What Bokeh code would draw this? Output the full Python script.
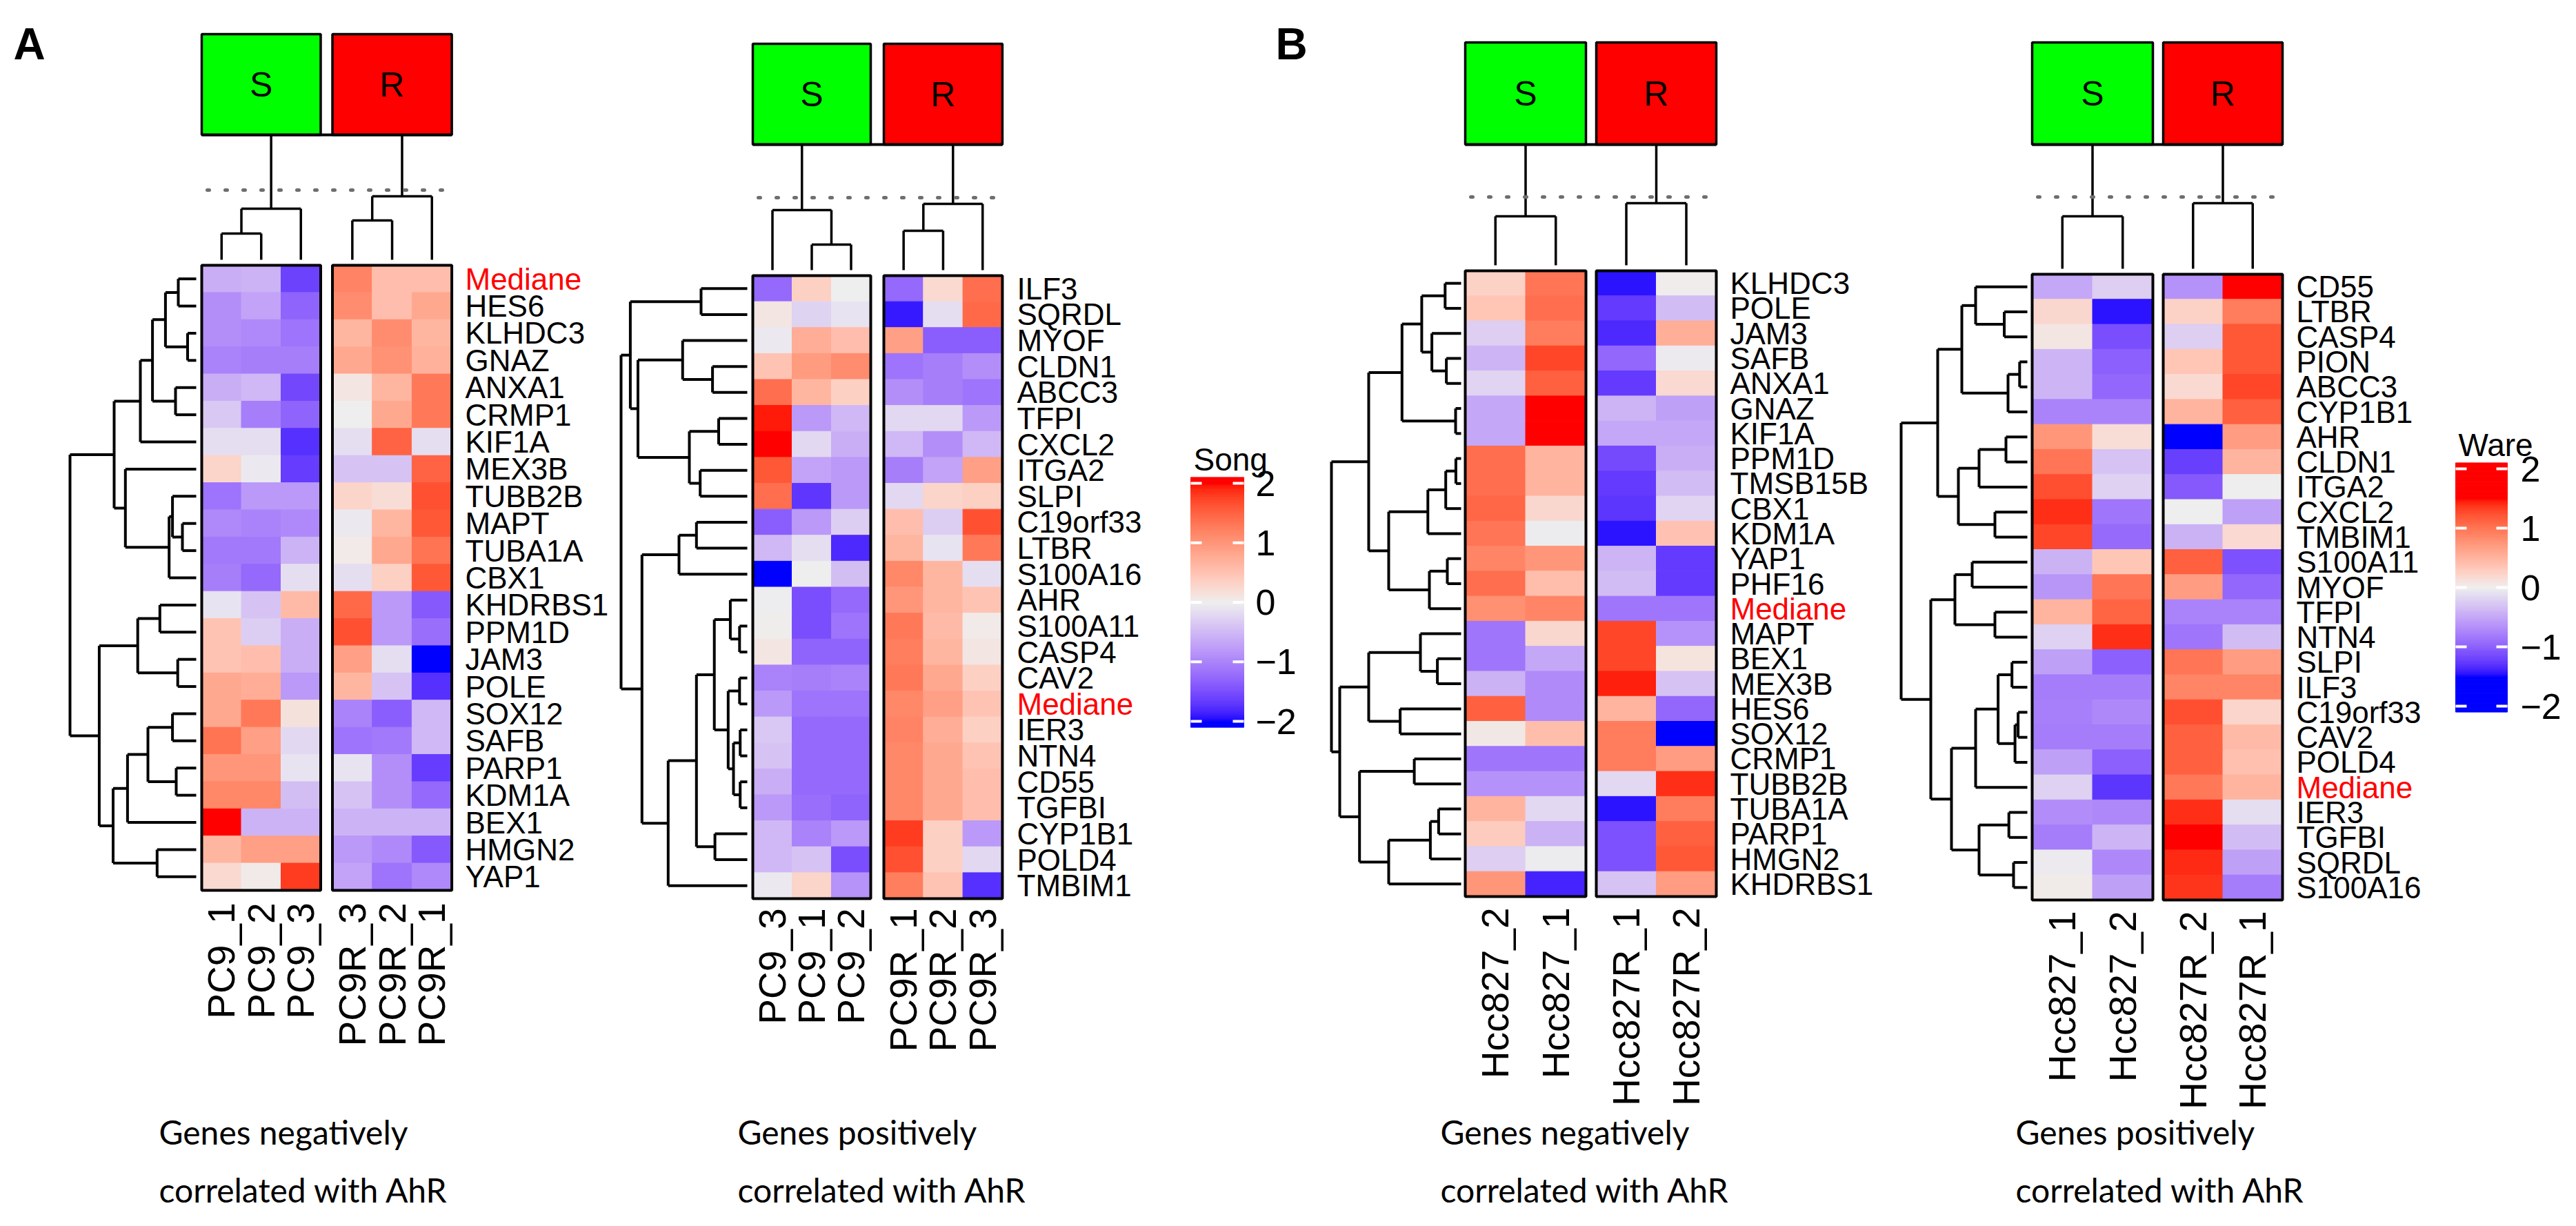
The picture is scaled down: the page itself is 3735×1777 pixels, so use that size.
import numpy as np
from bokeh.plotting import figure
from bokeh.models import Range1d
from bokeh.embed import file_html
from bokeh.resources import INLINE
from bokeh.core.properties import value

# ======================= DATA =======================
A_neg_genes = ["Mediane", "HES6", "KLHDC3", "GNAZ", "ANXA1", "CRMP1", "KIF1A", "MEX3B",
               "TUBB2B", "MAPT", "TUBA1A", "CBX1", "KHDRBS1", "PPM1D", "JAM3", "POLE",
               "SOX12", "SAFB", "PARP1", "KDM1A", "BEX1", "HMGN2", "YAP1"]
A_neg_S_cols = ["PC9_1", "PC9_2", "PC9_3"]
A_neg_R_cols = ["PC9R_3", "PC9R_2", "PC9R_1"]
A_neg_S = [[-0.6, -0.55, -1.6], [-0.9, -0.7, -1.3], [-0.9, -0.95, -1.15], [-1.0, -1.05, -1.05],
           [-0.6, -0.5, -1.55], [-0.35, -1.05, -1.3], [-0.15, -0.15, -1.75], [0.3, -0.05, -1.65],
           [-1.15, -0.8, -0.8], [-0.95, -1.0, -0.95], [-1.1, -1.1, -0.55], [-1.05, -1.25, -0.15],
           [-0.1, -0.4, 0.6], [0.5, -0.3, -0.6], [0.5, 0.55, -0.6], [0.8, 0.75, -0.8],
           [0.8, 1.3, 0.15], [1.35, 0.9, -0.2], [1.0, 1.0, -0.1], [1.15, 1.15, -0.45],
           [2.0, -0.55, -0.55], [0.65, 0.9, 0.9], [0.25, 0.05, 1.8]]
A_neg_R = [[1.2, 0.55, 0.55], [1.1, 0.55, 0.8], [0.65, 1.1, 0.65], [0.8, 1.05, 0.7],
           [0.1, 0.65, 1.3], [0.0, 0.8, 1.3], [-0.15, 1.5, -0.15], [-0.4, -0.4, 1.5],
           [0.3, 0.2, 1.65], [-0.05, 0.65, 1.6], [0.05, 0.8, 1.35], [-0.15, 0.35, 1.6],
           [1.45, -0.8, -1.4], [1.65, -0.8, -1.2], [0.9, -0.15, -2.0], [0.65, -0.4, -1.75],
           [-1.0, -1.35, -0.5], [-1.15, -1.1, -0.5], [-0.1, -0.9, -1.65], [-0.4, -0.9, -1.25],
           [-0.55, -0.55, -0.55], [-0.8, -0.95, -1.4], [-0.7, -1.15, -0.95]]
A_neg_row_tree = (((((((0, 1, 26), (2, 3, 12.5), 44.6), (4, 5, 30), 63.4), 6, 81),
                    (7, (((8, (9, 10, 20), 34.4)), 11, 39.3), 102.7), 119),
                   (((12, 13, 52.7), (14, 15, 26.8), 84.8),
                    (((((16, 17, 34.4), (18, 19, 29), 70), 20, 99.6)), (21, 22, 56.7), 120.5), 140.6), 183))
A_neg_S_tree = ((0, 1, 38), 2, 74)
A_neg_R_tree = ((0, 1, 57), 2, 92)

A_pos_genes = ["ILF3", "SQRDL", "MYOF", "CLDN1", "ABCC3", "TFPI", "CXCL2", "ITGA2", "SLPI",
               "C19orf33", "LTBR", "S100A16", "AHR", "S100A11", "CASP4", "CAV2", "Mediane",
               "IER3", "NTN4", "CD55", "TGFBI", "CYP1B1", "POLD4", "TMBIM1"]
A_pos_S_cols = ["PC9_3", "PC9_1", "PC9_2"]
A_pos_R_cols = ["PC9R_1", "PC9R_2", "PC9R_3"]
A_pos_S = [[-1.25, 0.35, 0.0], [0.1, -0.25, -0.1], [-0.05, 0.75, 0.55], [0.5, 0.95, 1.1],
           [1.4, 0.65, 0.35], [1.95, -0.8, -0.5], [2.0, -0.2, -0.6], [1.6, -0.7, -0.8],
           [1.4, -1.7, -0.8], [-1.35, -0.8, -0.3], [-0.5, -0.15, -1.8], [-2.0, 0.0, -0.45],
           [-0.02, -1.5, -1.25], [0.02, -1.5, -1.15], [0.1, -1.3, -1.3], [-1.0, -1.05, -1.0],
           [-0.8, -1.15, -1.15], [-0.35, -1.25, -1.25], [-0.4, -1.25, -1.25], [-0.6, -1.25, -1.25],
           [-0.8, -1.2, -1.3], [-0.5, -1.0, -0.8], [-0.5, -0.4, -1.5], [-0.05, 0.3, -0.85]]
A_pos_R = [[-1.25, 0.25, 1.4], [-1.9, -0.15, 1.45], [0.9, -1.35, -1.35], [-1.15, -1.05, -0.9],
           [-0.9, -1.05, -1.15], [-0.2, -0.2, -0.8], [-0.5, -0.9, -0.5], [-1.05, -0.7, 0.9],
           [-0.2, 0.3, 0.35], [0.55, -0.3, 1.65], [0.65, -0.1, 1.3], [1.15, 0.65, -0.15],
           [1.0, 0.65, 0.5], [1.3, 0.6, 0.05], [1.25, 0.65, 0.1], [1.3, 0.8, 0.35],
           [1.15, 0.9, 0.5], [1.2, 0.75, 0.35], [1.15, 0.8, 0.5], [1.15, 0.8, 0.55],
           [1.15, 0.8, 0.55], [1.8, 0.35, -0.8], [1.65, 0.35, -0.2], [1.25, 0.5, -1.75]]
A_pos_row_tree = (((0, 1, 67), ((2, (3, 4, 50.4), 93.75), ((5, 6, 41.5), (7, 8, 68.3), 84), 158.5), 169.6),
                  (((9, 10, 73.7), 11, 99),
                   (((((12, (13, 14, 11.2), 24.6),
                       ((15, 16, 11.2), ((17, 18, 10.3), (19, 20, 10.3), 20), 27.7), 47.8)),
                      (21, 22, 46.9), 73.7), 23, 114.7), 152.7), 183)
A_pos_S_tree = (0, (1, 2, 37), 87)
A_pos_R_tree = ((0, 1, 57), 2, 96)

B_neg_genes = ["KLHDC3", "POLE", "JAM3", "SAFB", "ANXA1", "GNAZ", "KIF1A", "PPM1D", "TMSB15B",
               "CBX1", "KDM1A", "YAP1", "PHF16", "Mediane", "MAPT", "BEX1", "MEX3B", "HES6",
               "SOX12", "CRMP1", "TUBB2B", "TUBA1A", "PARP1", "HMGN2", "KHDRBS1"]
B_neg_S_cols = ["Hcc827_2", "Hcc827_1"]
B_neg_R_cols = ["Hcc827R_1", "Hcc827R_2"]
B_neg_S = [[0.25, 1.0], [0.35, 1.05], [-0.22, 0.95], [-0.4, 1.3], [-0.18, 1.15], [-0.5, 1.5],
           [-0.5, 1.5], [1.05, 0.5], [1.05, 0.5], [1.1, 0.2], [1.0, -0.02], [0.88, 0.75],
           [1.05, 0.42], [0.8, 0.88], [-0.85, 0.2], [-0.85, -0.5], [-0.42, -0.7], [1.15, -0.7],
           [0.05, 0.42], [-0.85, -0.85], [-0.65, -0.65], [0.5, -0.15], [0.3, -0.42], [-0.22, -0.02],
           [0.75, -1.38]]
B_neg_R = [[-1.45, 0.02], [-1.25, -0.35], [-1.35, 0.55], [-0.95, -0.03], [-1.25, 0.18], [-0.4, -0.55],
           [-0.5, -0.5], [-1.15, -0.45], [-1.25, -0.35], [-1.28, -0.18], [-1.45, 0.38], [-0.4, -1.25],
           [-0.35, -1.25], [-0.85, -0.85], [1.3, -0.65], [1.3, 0.1], [1.45, -0.3], [0.5, -0.95],
           [0.95, -1.5], [0.95, 0.7], [-0.15, 1.4], [-1.45, 0.95], [-1.1, 1.15], [-1.1, 1.2],
           [-0.3, 0.7]]
B_neg_row_tree = (((((0, 1, 23.2), (2, (3, 4, 21.4), 42.4), 57.1), (5, 6, 8), 85.7),
                   (((((7, 8, 7.6), 9, 22.3), 10, 48.2)), (((11, 12, 20), 13, 46)), 105), 134),
                  (((14, (15, 16, 34.4), 59), (17, 18, 88.4), 134),
                   ((19, 20, 67.9), ((((21, 22, 32.6), 23, 44.6)), 24, 105), 147.3), 176), 188)
B_neg_S_tree = (0, 1, 71)
B_neg_R_tree = (0, 1, 90)

B_pos_genes = ["CD55", "LTBR", "CASP4", "PION", "ABCC3", "CYP1B1", "AHR", "CLDN1", "ITGA2",
               "CXCL2", "TMBIM1", "S100A11", "MYOF", "TFPI", "NTN4", "SLPI", "ILF3", "C19orf33",
               "CAV2", "POLD4", "Mediane", "IER3", "TGFBI", "SQRDL", "S100A16"]
B_pos_S_cols = ["Hcc827_1", "Hcc827_2"]
B_pos_R_cols = ["Hcc827R_2", "Hcc827R_1"]
B_pos_S = [[-0.5, -0.22], [0.2, -1.45], [0.08, -1.12], [-0.4, -1.0], [-0.4, -0.95], [-0.75, -0.75],
           [0.75, 0.15], [1.0, -0.3], [1.25, -0.2], [1.4, -0.85], [1.3, -0.92], [-0.42, 0.35],
           [-0.62, 1.0], [0.5, 1.12], [-0.2, 1.4], [-0.55, -1.0], [-0.8, -0.8], [-0.78, -0.72],
           [-0.8, -0.8], [-0.55, -1.0], [-0.2, -1.28], [-0.68, -0.72], [-0.8, -0.4], [-0.03, -0.72],
           [0.03, -0.55]]
B_pos_R = [[-0.65, 1.5], [0.25, 0.95], [-0.22, 1.2], [0.35, 1.2], [0.18, 1.3], [0.5, 1.15],
           [-1.5, 0.7], [-1.22, 0.5], [-1.05, 0.0], [0.0, -0.55], [-0.42, 0.18], [1.15, -1.1],
           [0.7, -0.95], [-0.75, -0.75], [-0.85, -0.35], [1.0, 0.7], [0.88, 0.88], [1.25, 0.22],
           [1.15, 0.45], [1.15, 0.4], [0.98, 0.5], [1.4, -0.12], [1.5, -0.35], [1.42, -0.55],
           [1.38, -0.8]]
B_pos_row_tree = (((((0, (1, 2, 33.5), 75), (((3, 4, 11.2), 5, 28)), 95),
                    ((((6, 7, 31), 8, 70)), (9, 10, 47), 100), 130)),
                  ((((11, 12, 80), (13, 14, 47), 105)),
                   ((((((15, 16, 22.3), (((17, 18, 13.4), 19, 17.9)), 42.4)), 20, 75)),
                    ((21, 22, 26.8), (23, 24, 20), 70), 110), 140), 183)
B_pos_S_tree = (0, 1, 76)
B_pos_R_tree = (0, 1, 95)

captions = [["Genes negatively", "correlated with AhR"], ["Genes positively", "correlated with AhR"],
            ["Genes negatively", "correlated with AhR"], ["Genes positively", "correlated with AhR"]]
legend_titles = ["Song", "Ware"]
legend_ticks = [2, 1, 0, -1, -2]
legend_tick_labels = ["2", "1", "0", "\u22121", "\u22122"]
panel_letters = ["A", "B"]
group_labels = ["S", "R"]

# ======================= COLOR SCALE (LAB interpolation) =======================
M = np.array([[0.4124, 0.3576, 0.1805], [0.2126, 0.7152, 0.0722], [0.0193, 0.1192, 0.9505]])
WHT = np.array([0.95047, 1.0, 1.08883])


def _lin(c):
    c = np.asarray(c, float) / 255.0
    return np.where(c <= 0.04045, c / 12.92, ((c + 0.055) / 1.055) ** 2.4)


def _f(t):
    d = 6 / 29
    return np.where(t > d ** 3, np.cbrt(t), t / (3 * d * d) + 4 / 29)


def _finv(t):
    d = 6 / 29
    return np.where(t > d, t ** 3, 3 * d * d * (t - 4 / 29))


def rgb2lab(rgb):
    xyz = M @ _lin(rgb)
    fx, fy, fz = _f(xyz / WHT)
    return np.array([116 * fy - 16, 500 * (fx - fy), 200 * (fy - fz)])


def lab2hex(lab):
    L, a, b = lab
    fy = (L + 16) / 116
    fx = fy + a / 500
    fz = fy - b / 200
    xyz = np.array([_finv(fx), _finv(fy), _finv(fz)]) * WHT
    lin = np.clip(np.linalg.inv(M) @ xyz, 0, 1)
    s = np.where(lin <= 0.0031308, 12.92 * lin, 1.055 * lin ** (1 / 2.4) - 0.055)
    r, g, b2 = (np.clip(np.round(s * 255), 0, 255)).astype(int)
    return "#%02x%02x%02x" % (r, g, b2)


LAB_BLUE = rgb2lab([0, 0, 255])
LAB_MID = rgb2lab([238, 238, 238])
LAB_RED = rgb2lab([255, 0, 0])


def cmap(v, lim):
    v = max(-lim, min(lim, v))
    if v < 0:
        t = (v + lim) / lim
        return lab2hex(LAB_BLUE * (1 - t) + LAB_MID * t)
    t = v / lim
    return lab2hex(LAB_MID * (1 - t) + LAB_RED * t)


# ======================= FIGURE =======================
W, H = 3719, 1761
p = figure(width=W, height=H, x_range=Range1d(8, 8 + W), y_range=Range1d(-(8 + H), -8),
           output_backend="svg", toolbar_location=None, min_border=0)
p.axis.visible = False
p.xgrid.visible = False
p.ygrid.visible = False
p.outline_line_color = None
p.background_fill_color = "white"

GENE_FONT = value("Liberation Sans")


def tree_segments(node, segs):
    if isinstance(node, int):
        return float(node), 0.0
    l, r, h = node
    pl, hl = tree_segments(l, segs)
    pr, hr = tree_segments(r, segs)
    segs.append(((pl, hl), (pl, h)))
    segs.append(((pr, hr), (pr, h)))
    segs.append(((pl, h), (pr, h)))
    return (pl + pr) / 2, h


def draw_panel(genes, s_cols, r_cols, s_vals, r_vals, row_tree, s_tree, r_tree, lim, L, caption):
    nrow = len(genes)
    rh = L["rh"]
    y0 = L["y0"]
    blocks = [(L["xS"], L["cwS"], s_cols, s_vals, s_tree, "#00ff00", "S"),
              (L["xR"], L["cwR"], r_cols, r_vals, r_tree, "#ff0000", "R")]
    for (bx, cw, cols, vals, ctree, bcol, glab) in blocks:
        ncol = len(cols)
        left, right, top, bottom, colors = [], [], [], [], []
        for i in range(nrow):
            for j in range(ncol):
                left.append(bx + j * cw)
                right.append(bx + (j + 1) * cw)
                top.append(-(y0 + i * rh))
                bottom.append(-(y0 + (i + 1) * rh))
                colors.append(cmap(vals[i][j], lim))
        p.quad(left=left, right=right, top=top, bottom=bottom, fill_color=colors,
               line_color=colors, line_width=1)
        bw = ncol * cw
        p.quad(left=[bx], right=[bx + bw], top=[-y0], bottom=[-(y0 + nrow * rh)],
               fill_color=None, line_color="black", line_width=4)
        # column labels
        p.text(x=[bx + (j + 0.5) * cw for j in range(ncol)], y=[-(y0 + nrow * rh + L["clgap"])] * ncol,
               text=cols, angle=np.pi / 2, text_align="right", text_baseline="middle",
               text_font=GENE_FONT, text_font_size="55px", text_color="black")
        # column dendrogram
        segs = []
        rp, rhgt = tree_segments(ctree, segs)
        base = y0 - 8
        xs = [[bx + (a[0] + 0.5) * cw, bx + (b[0] + 0.5) * cw] for a, b in segs]
        ys = [[-(base - a[1]), -(base - b[1])] for a, b in segs]
        xs.append([bx + (rp + 0.5) * cw] * 2)
        ys.append([-(base - rhgt), -L["box_bot"]])
        p.multi_line(xs=xs, ys=ys, line_color="black", line_width=3.5)
        # annotation box
        p.quad(left=[bx], right=[bx + bw], top=[-L["box_top"]], bottom=[-L["box_bot"]],
               fill_color=bcol, line_color="black", line_width=3.5)
        p.text(x=[bx + bw / 2], y=[-(L["box_top"] + L["box_bot"]) / 2], text=[glab],
               text_align="center", text_baseline="middle", text_font=GENE_FONT,
               text_font_size="50px", text_color="black")
    # bottom border spanning both boxes
    xr_end = L["xR"] + len(r_cols) * L["cwR"]
    p.line(x=[L["xS"], xr_end], y=[-L["box_bot"], -L["box_bot"]], line_color="black", line_width=4)
    # dashed cut line
    p.line(x=[L["xS"] + 8, xr_end - 8], y=[-L["dash_y"]] * 2, line_color="#6e6e6e",
           line_width=5, line_dash="3 23", line_cap="round")
    # row dendrogram
    segs = []
    tree_segments(row_tree, segs)
    lx = L["leaf_x"]
    xs = [[lx - a[1], lx - b[1]] for a, b in segs]
    ys = [[-(y0 + (a[0] + 0.5) * rh), -(y0 + (b[0] + 0.5) * rh)] for a, b in segs]
    p.multi_line(xs=xs, ys=ys, line_color="black", line_width=4)
    # row labels
    tcol = ["#ff0000" if g == "Mediane" else "black" for g in genes]
    p.text(x=[L["lab_x"]] * nrow, y=[-(y0 + (i + 0.5) * rh) for i in range(nrow)], text=genes,
           text_align="left", text_baseline="middle", text_font=GENE_FONT, text_font_size="44px",
           text_color=tcol)
    # caption
    p.text(x=[L["cap_x"]] * 2, y=[-1648, -1732], text=caption, text_align="left",
           text_baseline="middle", text_font=value("Lato"), text_font_size="48px", text_color="black")


def draw_legend(title, lim, bx0, bx1, y_zero, unit, title_y, label_x):
    vs = np.linspace(-2.1, 2.1, 169)
    mids = (vs[:-1] + vs[1:]) / 2
    cols = [cmap(v, lim) for v in mids]
    p.quad(left=[bx0] * len(mids), right=[bx1] * len(mids), top=[-(y_zero - v * unit) for v in vs[1:]],
           bottom=[-(y_zero - v * unit) for v in vs[:-1]], fill_color=cols, line_color=cols, line_width=1)
    tk = [-(y_zero - t * unit) for t in legend_ticks]
    p.multi_line(xs=[[bx0, bx0 + 16] for _ in tk] + [[bx1 - 16, bx1] for _ in tk],
                 ys=[[y, y] for y in tk] * 2, line_color="white", line_width=4)
    p.text(x=[label_x] * len(tk), y=tk, text=legend_tick_labels, text_align="left",
           text_baseline="middle", text_font=GENE_FONT, text_font_size="52px", text_color="black")
    p.text(x=[bx0 + 4], y=[-title_y], text=[title], text_align="left", text_baseline="alphabetic",
           text_font=GENE_FONT, text_font_size="46px", text_color="black")


LAY_A_NEG = dict(xS=300, cwS=57.5, xR=489.5, cwR=57.7, y0=392, rh=906 / 23, box_top=57, box_bot=203,
                 dash_y=283, leaf_x=292, lab_x=682, clgap=18, cap_x=238)
LAY_A_POS = dict(xS=1099, cwS=57.0, xR=1289, cwR=57.3, y0=407, rh=903 / 24, box_top=71, box_bot=217,
                 dash_y=294, leaf_x=1091, lab_x=1482, clgap=14, cap_x=1077)
LAY_B_NEG = dict(xS=2132, cwS=87.5, xR=2322, cwR=87.0, y0=400, rh=907 / 25, box_top=69, box_bot=217,
                 dash_y=293, leaf_x=2126, lab_x=2516, clgap=16, cap_x=2096)
LAY_B_POS = dict(xS=2954, cwS=87.5, xR=3144, cwR=86.5, y0=405, rh=907 / 25, box_top=69, box_bot=217,
                 dash_y=293, leaf_x=2947, lab_x=3337, clgap=16, cap_x=2930)

draw_panel(A_neg_genes, A_neg_S_cols, A_neg_R_cols, A_neg_S, A_neg_R, A_neg_row_tree, A_neg_S_tree,
           A_neg_R_tree, 2.0, LAY_A_NEG, captions[0])
draw_panel(A_pos_genes, A_pos_S_cols, A_pos_R_cols, A_pos_S, A_pos_R, A_pos_row_tree, A_pos_S_tree,
           A_pos_R_tree, 2.0, LAY_A_POS, captions[1])
draw_panel(B_neg_genes, B_neg_S_cols, B_neg_R_cols, B_neg_S, B_neg_R, B_neg_row_tree, B_neg_S_tree,
           B_neg_R_tree, 1.5, LAY_B_NEG, captions[2])
draw_panel(B_pos_genes, B_pos_S_cols, B_pos_R_cols, B_pos_S, B_pos_R, B_pos_row_tree, B_pos_S_tree,
           B_pos_R_tree, 1.5, LAY_B_POS, captions[3])

draw_legend(legend_titles[0], 2.0, 1734, 1811, 880.5, 86.25, 673, 1828)
draw_legend(legend_titles[1], 1.5, 3568, 3643, 859, 86.0, 652, 3662)

p.text(x=[27, 1857], y=[-71, -71], text=panel_letters, text_align="left", text_baseline="alphabetic",
       text_font=GENE_FONT, text_font_size="64px", text_font_style="bold", text_color="black")

open("out.html", "w").write(file_html(p, INLINE))
